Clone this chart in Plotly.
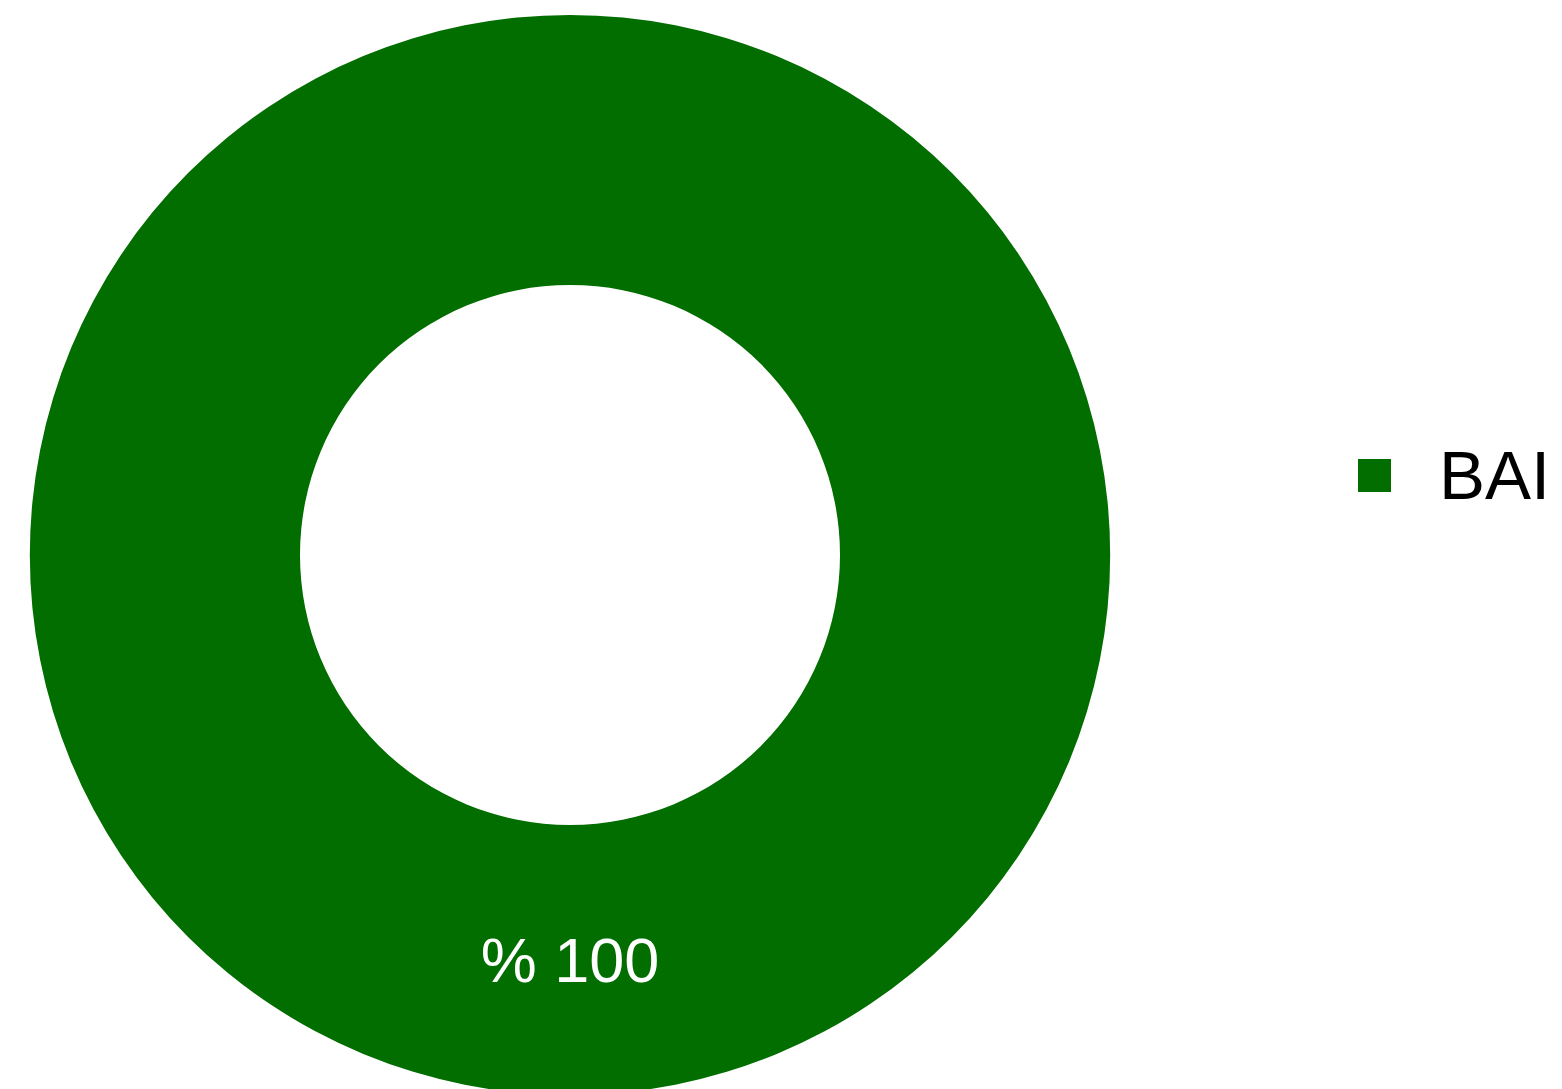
import plotly.graph_objects as go

labels = ["BAI"]
values = [100]
colors = ["#036e00"]

total = sum(values)
pct_text = [f"% {round(v / total * 100)}" for v in values]

W, H = 1562, 1110
FONT = "Arial"
pie_font = dict(family=FONT, size=63, color="white")

fig = go.Figure()
fig.add_trace(go.Pie(
    labels=labels,
    values=values,
    hole=0.5,
    sort=False,
    direction="clockwise",
    rotation=0,
    marker=dict(colors=colors, line=dict(width=0)),
    text=pct_text,
    texttemplate="%{text}",
    textposition="inside",
    insidetextorientation="horizontal",
    textfont=pie_font,
    insidetextfont=pie_font,
    showlegend=False,
    hoverinfo="label+percent",
    domain=dict(x=[30 / W, 1110 / W], y=[15 / H, 1095 / H]),
))

# legend drawn manually (large square marker + label)
for i, (lab, col) in enumerate(zip(labels, colors)):
    fig.add_shape(type="rect", xref="paper", yref="paper",
                  x0=1358 / W, x1=1391 / W,
                  y0=1 - 492 / H, y1=1 - 459 / H,
                  fillcolor=col, line=dict(width=0))
    fig.add_annotation(xref="paper", yref="paper",
                       x=1437 / W, y=1 - 475 / H,
                       xanchor="left", yanchor="middle",
                       text=lab, showarrow=False,
                       font=dict(family=FONT, size=69, color="black"))

fig.update_layout(
    width=W, height=H,
    margin=dict(l=0, r=0, t=0, b=0),
    paper_bgcolor="white",
    plot_bgcolor="white",
    showlegend=False,
    font=dict(family=FONT),
)

fig.write_html(
    "out.html",
    config={"displayModeBar": False},
    post_script="document.body.style.margin='0';document.body.style.overflow='hidden';document.documentElement.style.overflow='hidden';",
)
